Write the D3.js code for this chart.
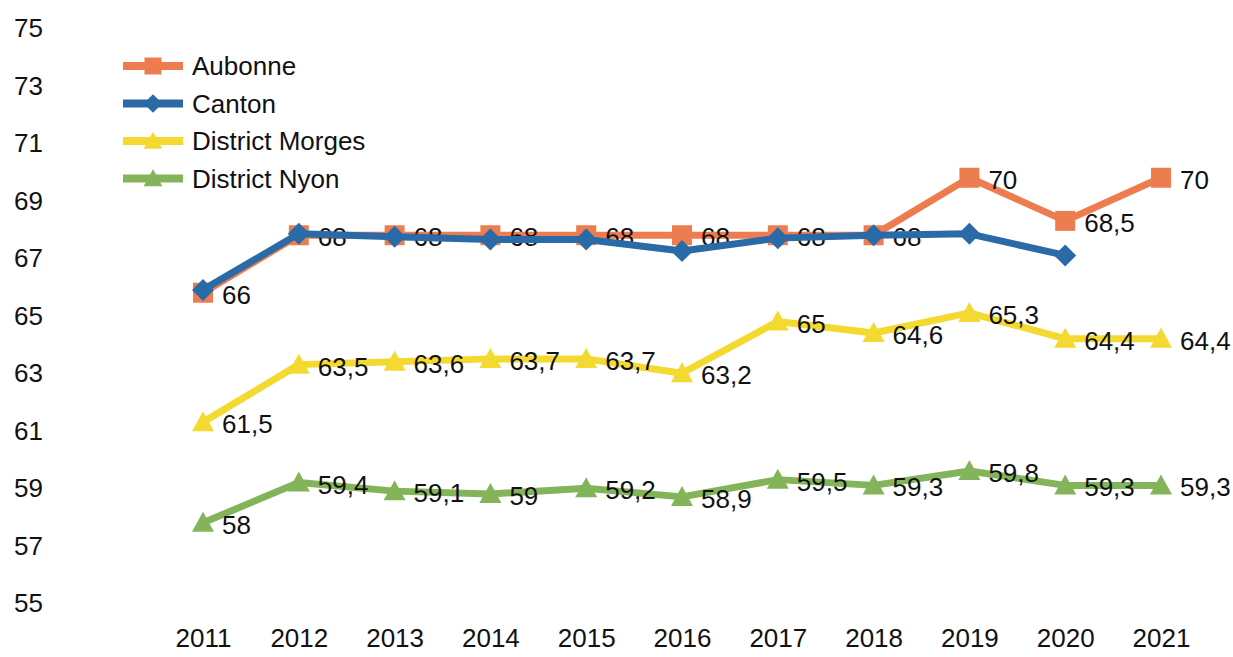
<!DOCTYPE html>
<html>
<head>
<meta charset="utf-8">
<script src="https://cdn.jsdelivr.net/npm/d3@7"></script>
<style>
  body { margin: 0; background: #fff; }
  svg text { font-family: "Liberation Sans", Arial, sans-serif; fill: #111; }
</style>
</head>
<body>
<div id="chart"></div>
<script>
// DATA
const years = [2011, 2012, 2013, 2014, 2015, 2016, 2017, 2018, 2019, 2020, 2021];
const yTicks = [55, 57, 59, 61, 63, 65, 67, 69, 71, 73, 75];
const aubonne = [66, 68, 68, 68, 68, 68, 68, 68, 70, 68.5, 70];
const canton = [66.1, 68.05, 67.95, 67.85, 67.85, 67.45, 67.9, 68, 68.05, 67.3, null];
const morges = [61.5, 63.5, 63.6, 63.7, 63.7, 63.2, 65, 64.6, 65.3, 64.4, 64.4];
const nyon = [58, 59.4, 59.1, 59, 59.2, 58.9, 59.5, 59.3, 59.8, 59.3, 59.3];

const series = [
  { name: "Aubonne", values: aubonne, color: "#ED7D4F", shape: "square", labels: true },
  { name: "Canton", values: canton, color: "#2A6AA6", shape: "diamond", labels: false },
  { name: "District Morges", values: morges, color: "#F3D930", shape: "triangle", labels: true },
  { name: "District Nyon", values: nyon, color: "#84B45A", shape: "triangle", labels: true }
];

// SVG DIMENSION
const outer_w = 1233;
const outer_h = 657;
const fs = 26;

const svg = d3.select("#chart")
  .append("svg")
  .attr("width", outer_w)
  .attr("height", outer_h);

// SCALES
const x = d3.scalePoint()
  .domain(years)
  .range([203, 1161]);

const y = d3.scaleLinear()
  .domain([55, 75])
  .range([609, 34]);

// AXES (labels only, no lines)
const yAxis = svg.append("g")
  .attr("transform", "translate(43,0)")
  .call(d3.axisLeft(y).tickValues(yTicks).tickSize(0).tickPadding(0));
yAxis.select(".domain").remove();
yAxis.selectAll("text")
  .attr("font-size", fs)
  .attr("dy", "0.1em")
  .attr("font-family", "Liberation Sans, Arial, sans-serif")
  .attr("fill", "#111");

const xAxis = svg.append("g")
  .attr("transform", "translate(0,629)")
  .call(d3.axisBottom(x).tickSize(0).tickPadding(0));
xAxis.select(".domain").remove();
xAxis.selectAll("text")
  .attr("font-size", fs)
  .attr("font-family", "Liberation Sans, Arial, sans-serif")
  .attr("fill", "#111");

// MARKER SHAPES
function markerPath(shape) {
  if (shape === "square") return "M-10,-10H10V10H-10Z";
  if (shape === "diamond") return "M0,-11L11,0L0,11L-11,0Z";
  return "M0,-11L11,9H-11Z";
}

const line = d3.line()
  .defined((d) => d.v != null)
  .x((d) => x(d.year))
  .y((d) => y(d.v));

series.forEach((s) => {
  const pts = years.map((yr, i) => ({ year: yr, v: s.values[i] }));
  const g = svg.append("g");

  g.append("path")
    .datum(pts)
    .attr("fill", "none")
    .attr("stroke", s.color)
    .attr("stroke-width", 7)
    .attr("stroke-linejoin", "round")
    .attr("d", line);

  g.selectAll("path.mk")
    .data(pts.filter((d) => d.v != null))
    .enter().append("path")
    .attr("class", "mk")
    .attr("transform", (d) => "translate(" + x(d.year) + "," + y(d.v) + ")")
    .attr("d", markerPath(s.shape))
    .attr("fill", s.color);

  if (s.labels) {
    g.selectAll("text")
      .data(pts.filter((d) => d.v != null))
      .enter().append("text")
      .attr("x", (d) => x(d.year) + 19)
      .attr("y", (d) => y(d.v) + 2)
      .attr("dy", "0.35em")
      .attr("font-size", fs)
      .text((d) => String(d.v).replace(".", ","));
  }
});

// LEGEND
const legend = svg.append("g").attr("transform", "translate(123,66)");
series.forEach((s, i) => {
  const row = legend.append("g").attr("transform", "translate(0," + (i * 37.5) + ")");
  row.append("line")
    .attr("x1", 0).attr("x2", 60)
    .attr("stroke", s.color)
    .attr("stroke-width", 8);
  row.append("path")
    .attr("transform", "translate(30,0) scale(0.85)")
    .attr("d", markerPath(s.shape))
    .attr("fill", s.color);
  row.append("text")
    .attr("x", 69)
    .attr("dy", "0.35em")
    .attr("font-size", fs)
    .text(s.name);
});
</script>
</body>
</html>
